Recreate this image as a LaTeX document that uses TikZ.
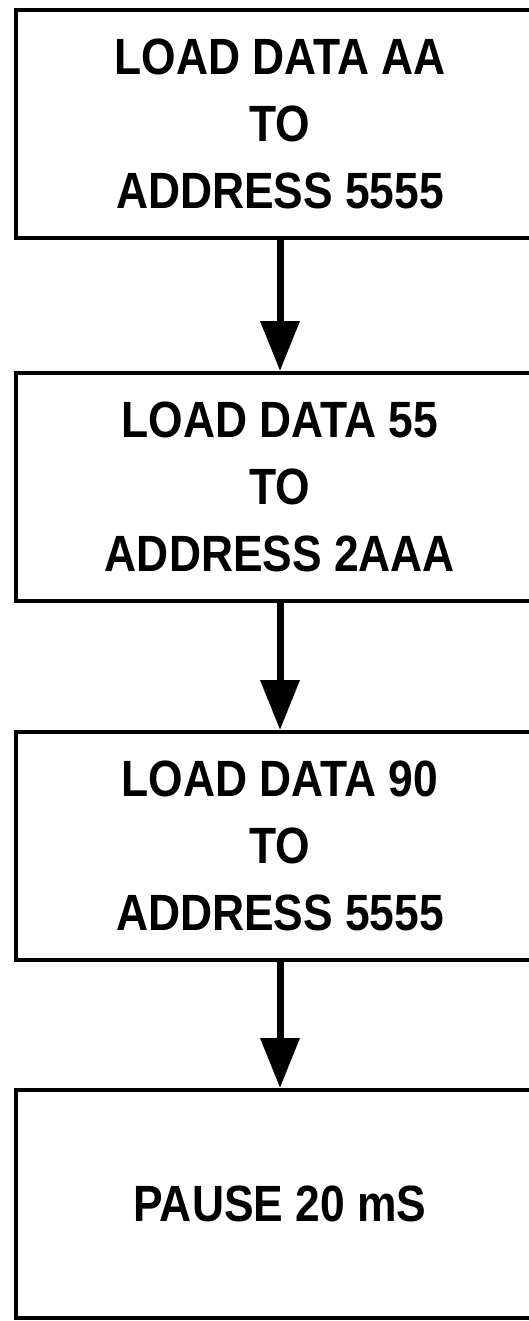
\documentclass[tikz,border=0pt]{standalone}
\usepackage{fontspec}
\newfontfamily\hfont[FakeStretch=0.87]{Liberation Sans}
\usetikzlibrary{arrows.meta}
\begin{document}
\begin{tikzpicture}[x=1pt,y=-1pt,
  box/.style={draw, line width=4pt, minimum width=528pt, minimum height=228pt,
    align=center, inner sep=0pt, font=\hfont\bfseries\fontsize{51}{67}\selectfont},
  flow/.style={line width=7pt, -{Triangle[width=38pt,length=50pt]}}]
\useasboundingbox (0,0) rectangle (529,1321);
\clip (0,0) rectangle (529,1321);
\node[box] (b1) at (280,124) {LOAD DATA AA\\TO\\ADDRESS 5555};
\node[box] (b2) at (280,487) {LOAD DATA 55\\TO\\ADDRESS 2AAA};
\node[box] (b3) at (280,846) {LOAD DATA 90\\TO\\ADDRESS 5555};
\node[box] (b4) at (280,1204) {PAUSE 20 mS};
\draw[flow] (b1.south) -- (b2.north);
\draw[flow] (b2.south) -- (b3.north);
\draw[flow] (b3.south) -- (b4.north);
\end{tikzpicture}
\end{document}
